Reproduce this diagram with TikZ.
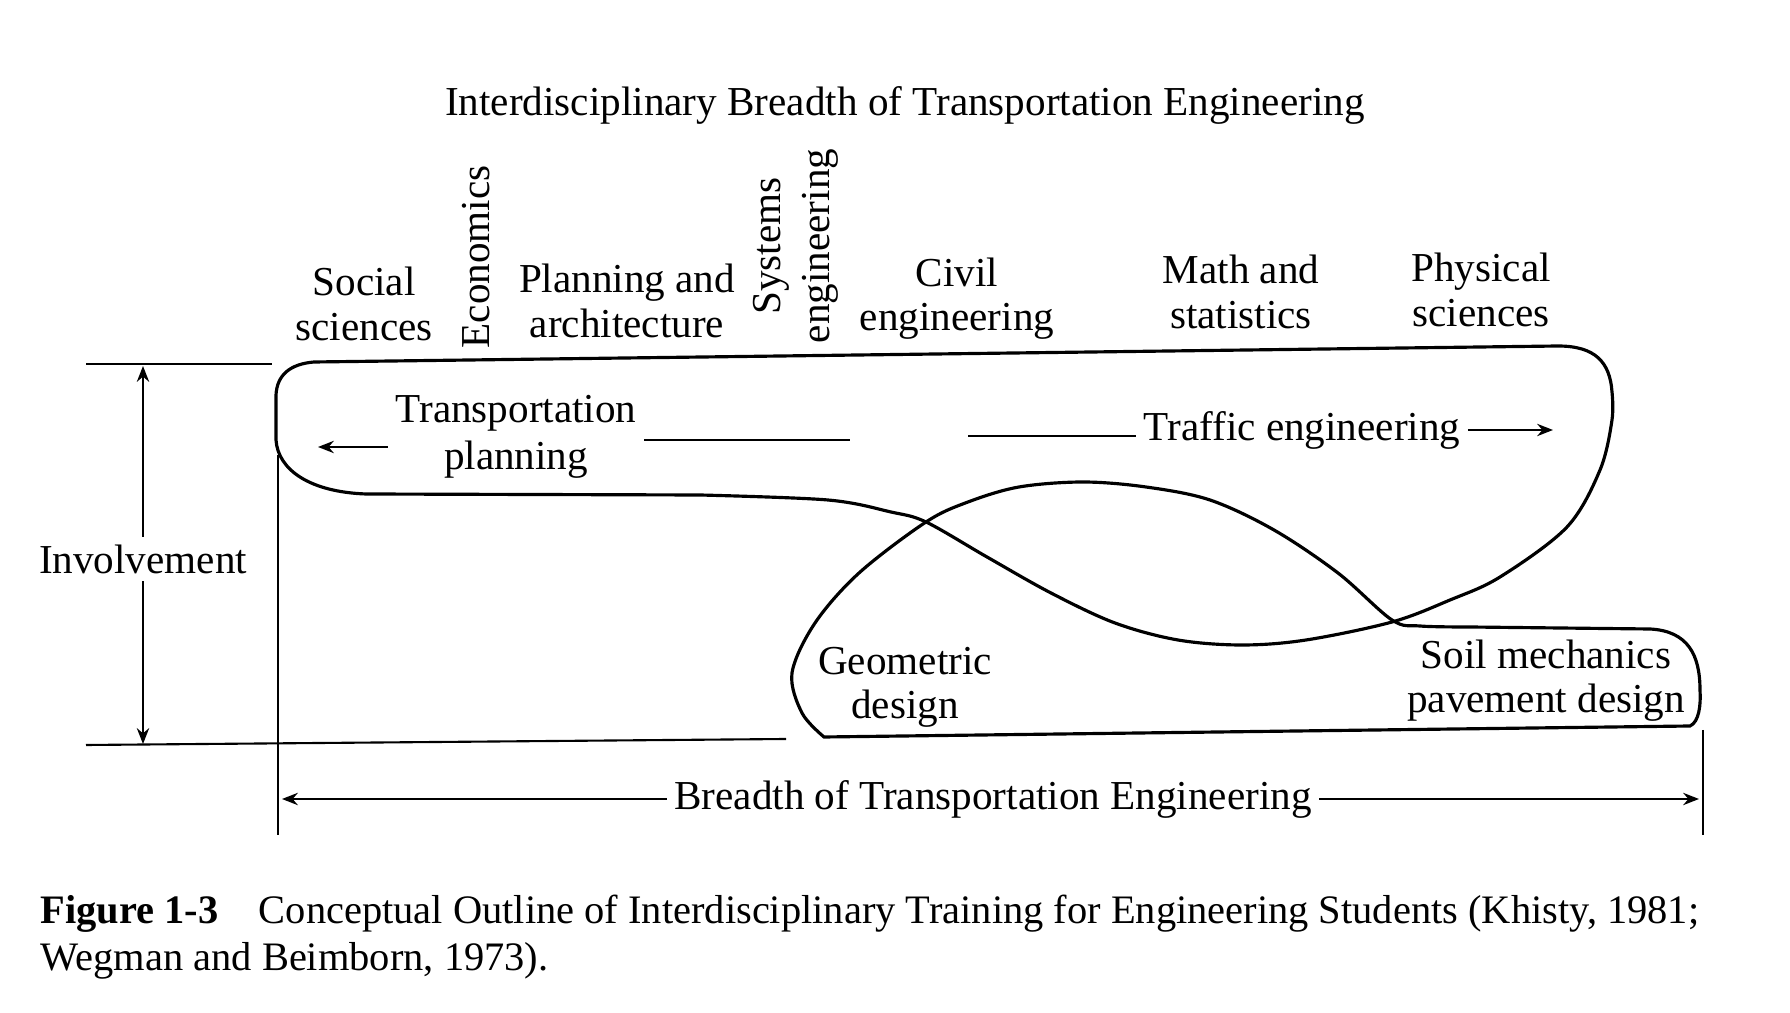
\documentclass[tikz,border=0pt]{standalone}
\usepackage{fontspec}
\setmainfont{Liberation Serif}
\usetikzlibrary{arrows.meta}

\begin{document}
\begin{tikzpicture}[x=0.01cm,y=-0.01cm,
  >={Stealth[length=4.5pt,width=3.5pt]},
  txt/.style={font=\fontsize{11.7}{12.6}\selectfont,align=center,inner sep=2pt},
  blob/.style={black,line width=0.9pt},
  rule/.style={black,line width=0.6pt}]
\useasboundingbox (0,0) rectangle (1790,1013);

% heading
\node[txt] (title) at (905,105) {Interdisciplinary Breadth of Transportation Engineering};

% disciplines
\node[txt] (social) at (364,304) {Social\\sciences};
\node[txt,rotate=90] (econ) at (476,257) {Economics};
\node[txt] (planarch) at (627,301) {Planning and\\architecture};
\node[txt,rotate=90,font=\fontsize{11.7}{14}\selectfont] (syseng) at (796,246) {Systems\\engineering};
\node[txt] (civil) at (957,299) {Civil\\engineering};
\node[txt] (math) at (1241,292) {Math and\\statistics};
\node[txt] (phys) at (1481,290) {Physical\\sciences};

% involvement axis
\draw[rule] (86,364) -- (272,364);
\draw[rule] (86,745) -- (786,739);
\node[txt,fill=white] (inv) at (143,559) {Involvement};
\coordinate (invT) at (143,366);
\coordinate (invB) at (143,744);
\draw[rule,->] (inv) -- (invT);
\draw[rule,->] (inv) -- (invB);

% upper loop
\draw[blob] (366,494) -- (700,495)
  -- plot[smooth,tension=0.55] coordinates {(700,495) (828,500) (891,512) (926,522) (987,557) (1051,593) (1115,623) (1178,640) (1242,645) (1306,640) (1392,622) (1450,600) (1500,577) (1567,527) (1600,470) (1612,420) (1612,392)}
  .. controls (1610,362) and (1595,346) .. (1558,346)
  -- (314,362) .. controls (290,364) and (277,375) .. (276,395)
  -- (276,440) .. controls (278,470) and (310,492) .. (366,494) -- cycle;

% lower loop
\draw[blob] (824,737) -- (1690,726)
  .. controls (1699,722) and (1701,705) .. (1700,690)
  .. controls (1700,655) and (1688,631) .. (1650,629)
  -- (1470,627)
  -- plot[smooth,tension=0.55] coordinates {(1470,627) (1420,626) (1392,620) (1338,573) (1274,530) (1210,500) (1146,487) (1083,482) (1019,487) (968,502) (926,522) (859,573) (815,623) (792,673) (802,713) (824,737)}
  -- cycle;

% inner labels
\node[txt,font=\fontsize{11.7}{13.4}\selectfont] (tplan) at (516,437) {Transportation\\planning};
\node[txt] (traffic) at (1302,430) {Traffic engineering};
\node[txt] (geom) at (905,687) {Geometric\\design};
\node[txt] (soil) at (1546,681) {Soil mechanics\\pavement design};
\coordinate (tpL) at (318,447);
\coordinate (gapA) at (850,440);
\coordinate (gapB) at (968,436);
\coordinate (trR) at (1553,430);
\draw[rule,->] (tplan.west |- tpL) -- (tpL);
\draw[rule] (tplan.east |- gapA) -- (gapA);
\draw[rule] (gapB) -- (traffic.west |- gapB);
\draw[rule,->] (traffic) -- (trR);

% breadth axis
\draw[rule] (278,455) -- (278,835);
\draw[rule] (1703,730) -- (1703,835);
\node[txt] (breadth) at (993,799) {Breadth of Transportation Engineering};
\coordinate (brL) at (282,799);
\coordinate (brR) at (1699,799);
\draw[rule,->] (breadth) -- (brL);
\draw[rule,->] (breadth) -- (brR);

% caption
\node[anchor=west,align=left,inner sep=0,font=\fontsize{11.5}{13.4}\selectfont] (caption) at (40,937)
  {\textbf{Figure 1-3}\quad Conceptual Outline of Interdisciplinary Training for Engineering Students (Khisty, 1981;\\Wegman and Beimborn, 1973).};
\end{tikzpicture}
\end{document}
